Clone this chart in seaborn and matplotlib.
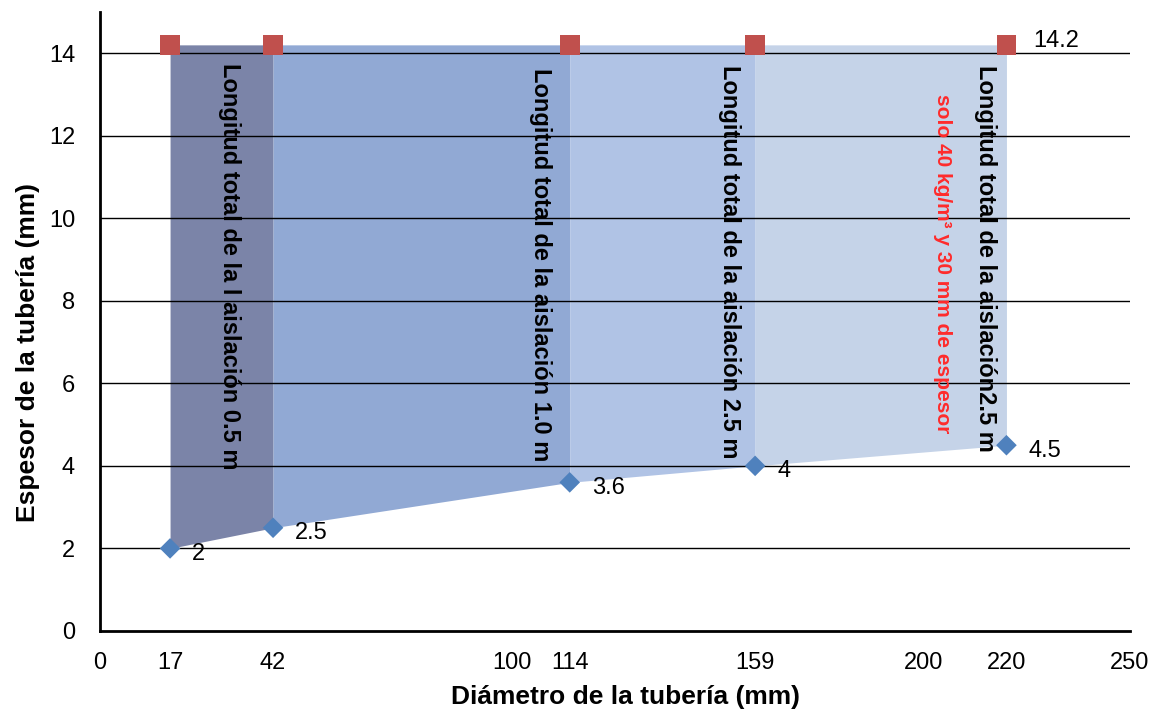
import matplotlib
matplotlib.use("Agg")
import matplotlib.pyplot as plt
import numpy as np
import pandas as pd
import seaborn as sns

# data
diametro = [17, 42, 114, 159, 220]
espesor = [2, 2.5, 3.6, 4, 4.5]
limite = [14.2, 14.2, 14.2, 14.2, 14.2]
x_ticks = [0, 17, 42, 100, 114, 159, 200, 220, 250]
y_ticks = [0, 2, 4, 6, 8, 10, 12, 14]
tramo_colores = ["#7B84A8", "#91A9D4", "#B0C3E5", "#C5D3E8"]
etiquetas = [
    "Longitud total de la l aislación 0.5 m",
    "Longitud total de la aislación 1.0 m",
    "Longitud total de la aislación 2.5 m",
    "Longitud total de la aislación2.5 m",
]
nota = "solo 40 kg/m³ y 30 mm de espesor"

sns.set_theme(style="white")
plt.rcParams["font.family"] = ["Liberation Sans", "DejaVu Sans"]

df = pd.DataFrame({"diametro": diametro, "espesor": espesor, "limite": limite})

fig = plt.figure(figsize=(11.55, 7.17), dpi=100)
ax = fig.add_axes([0.0866, 0.12, 0.8918, 0.8635])

# shaded bands between the pipe thickness line and the 14.2 limit
for i in range(len(diametro) - 1):
    xs = diametro[i:i + 2]
    ax.fill_between(xs, espesor[i:i + 2], limite[i:i + 2],
                    color=tramo_colores[i], linewidth=0, zorder=1)

for y in y_ticks[1:]:
    ax.axhline(y, color="black", linewidth=1, zorder=2)

sns.scatterplot(data=df, x="diametro", y="espesor", marker="D", s=110,
                color="#4F81BD", edgecolor="none", ax=ax, zorder=4)
sns.scatterplot(data=df, x="diametro", y="limite", marker="s", s=200,
                color="#C0504D", edgecolor="none", ax=ax, zorder=4)

for xv, yv in zip(diametro, espesor):
    ax.annotate(f"{yv:g}", (xv, yv), xytext=(16, -4), textcoords="offset points",
                ha="left", va="center", fontsize=17, color="black", zorder=5)
ax.annotate(f"{limite[-1]:g}", (diametro[-1], limite[-1]), xytext=(19, 3),
            textcoords="offset points", ha="left", va="center", fontsize=17,
            color="black", zorder=5)

label_x = [31.5, 106.8, 152.9, 214.8]
label_top = [13.75, 13.65, 13.7, 13.7]
for xv, yt, txt in zip(label_x, label_top, etiquetas):
    ax.text(xv, yt, txt, rotation=-90, ha="center", va="top", fontsize=17,
            fontweight="bold", color="black", zorder=5)
ax.text(204.4, 13.0, nota, rotation=-90, ha="center", va="top", fontsize=15,
        fontweight="bold", color="#FF2B2B", zorder=5)

ax.set_xlim(0, 250)
ax.set_ylim(0, 15)
ax.set_xticks(x_ticks)
ax.set_yticks(y_ticks)
ax.tick_params(axis="both", length=0, labelsize=17, labelcolor="black")
ax.tick_params(axis="x", pad=15)
ax.tick_params(axis="y", pad=18)
ax.set_xlabel("Diámetro de la tubería (mm)", fontsize=19, fontweight="bold",
              color="black")
ax.set_ylabel("Espesor de la tubería (mm)", fontsize=19, fontweight="bold",
              color="black")
ax.xaxis.set_label_coords(0.51, -0.088)
ax.yaxis.set_label_coords(-0.058, 0.45)

for side in ["top", "right"]:
    ax.spines[side].set_visible(False)
for side in ["left", "bottom"]:
    ax.spines[side].set_color("black")
    ax.spines[side].set_linewidth(2)
    ax.spines[side].set_zorder(3)

fig.savefig("out.png", dpi=100)
